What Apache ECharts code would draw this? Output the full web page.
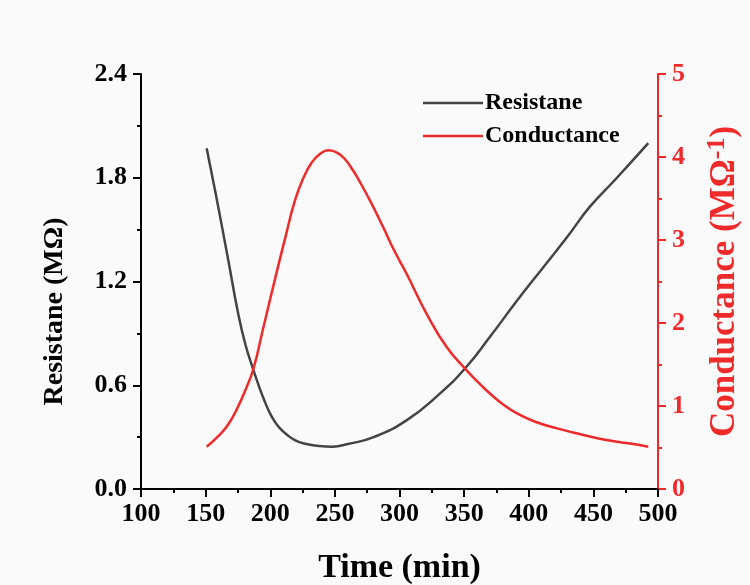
<!DOCTYPE html>
<html>
<head>
<meta charset="utf-8">
<script src="https://cdn.jsdelivr.net/npm/echarts@6/dist/echarts.min.js"></script>
<style>
  html, body { margin: 0; padding: 0; background: #fafafa; }
  #chart { width: 750px; height: 585px; }
</style>
</head>
<body>
<div id="chart"></div>
<script>
// time (min) and values
const resTime = [150.8, 158, 167.6, 175.3, 181, 187, 191, 195, 199, 203, 207, 212, 219, 228, 238, 248, 260, 280, 306, 331, 351, 370, 391, 411, 430, 447, 467, 492.5];
const resValue = [1.97, 1.70, 1.32, 1.01, 0.83, 0.687, 0.60, 0.52, 0.45, 0.395, 0.355, 0.32, 0.283, 0.26, 0.248, 0.245, 0.26, 0.30, 0.40, 0.55, 0.70, 0.88, 1.09, 1.28, 1.46, 1.63, 1.79, 2.0];

const condTime = [150.8, 160, 167.6, 175, 181, 187, 194, 204, 212, 219, 226, 232, 238, 245, 252, 258, 264, 269, 278, 287.5, 296, 305.6, 321, 336.5, 350.7, 360, 370, 380, 391, 405, 422, 440, 460, 477, 492.5];
const condValue = [0.51, 0.64, 0.78, 0.99, 1.2, 1.45, 1.9, 2.55, 3.05, 3.47, 3.76, 3.93, 4.03, 4.08, 4.05, 3.97, 3.84, 3.71, 3.45, 3.15, 2.87, 2.59, 2.11, 1.71, 1.45, 1.30, 1.15, 1.02, 0.91, 0.81, 0.73, 0.66, 0.59, 0.55, 0.51];

const xTicks = [100, 150, 200, 250, 300, 350, 400, 450, 500];
const leftTicks = [0, 0.6, 1.2, 1.8, 2.4];
const rightTicks = [0, 1, 2, 3, 4, 5];

const RED = '#ee2a2a';
const FONT = '"Liberation Serif", "Times New Roman", serif';

const chart = echarts.init(document.getElementById('chart'));

const toPairs = (xs, ys) => xs.map((x, i) => [x, ys[i]]);

const option = {
  backgroundColor: '#fafafa',
  animation: false,
  grid: { left: 141, right: 92, top: 74, bottom: 96, outerBoundsMode: 'none' },
  legend: {
    left: 418,
    top: 86,
    orient: 'vertical',
    itemWidth: 60,
    itemHeight: 22,
    itemGap: 9,
    icon: 'path://M0,10 L60,10 L60,12.5 L0,12.5 Z',
    textStyle: { fontFamily: FONT, fontWeight: 'bold', fontSize: 24, color: '#000', padding: [0, 0, 0, -3] },
    data: ['Resistane', 'Conductance']
  },
  xAxis: [
    {
      type: 'value',
      min: xTicks[0],
      max: xTicks[xTicks.length - 1],
      interval: 50,
      name: 'Time (min)',
      nameLocation: 'middle',
      nameGap: 62,
      nameTextStyle: { fontFamily: FONT, fontWeight: 'bold', fontSize: 34, color: '#000' },
      axisLine: { lineStyle: { color: '#000', width: 2 } },
      axisTick: { length: 8, lineStyle: { color: '#000', width: 2 } },
      minorTick: { show: true, splitNumber: 2, length: 4, lineStyle: { color: '#000', width: 2 } },
      splitLine: { show: false },
      axisLabel: { margin: 12, fontFamily: FONT, fontWeight: 'bold', fontSize: 26, color: '#000' }
    },
    {
      type: 'value',
      position: 'top',
      min: 100,
      max: 500,
      axisLine: { show: true, lineStyle: { color: '#000', width: 2 } },
      axisTick: { show: false },
      axisLabel: { show: false },
      splitLine: { show: false }
    }
  ],
  yAxis: [
    {
      type: 'value',
      min: leftTicks[0],
      max: leftTicks[leftTicks.length - 1],
      interval: 0.6,
      name: 'Resistane (MΩ)',
      nameLocation: 'middle',
      nameRotate: 90,
      nameGap: 72,
      nameTextStyle: { fontFamily: FONT, fontWeight: 'bold', fontSize: 28, color: '#000', padding: [0, 60, 0, 0] },
      axisLine: { show: true, lineStyle: { color: '#000', width: 2 } },
      axisTick: { show: true, length: 8, lineStyle: { color: '#000', width: 2 } },
      minorTick: { show: true, splitNumber: 2, length: 4, lineStyle: { color: '#000', width: 2 } },
      splitLine: { show: false },
      axisLabel: {
        margin: 14,
        fontFamily: FONT, fontWeight: 'bold', fontSize: 26, color: '#000',
        formatter: v => v.toFixed(1)
      }
    },
    {
      type: 'value',
      position: 'right',
      min: rightTicks[0],
      max: rightTicks[rightTicks.length - 1],
      interval: 1,
      name: 'Conductance (MΩ{sup|-1})',
      nameLocation: 'middle',
      nameRotate: 90,
      nameGap: 46,
      nameTextStyle: {
        fontFamily: FONT, fontWeight: 'bold', fontSize: 35, color: RED,
        rich: {
          sup: { fontFamily: FONT, fontWeight: 'bold', fontSize: 26, color: RED, padding: [0, 0, 16, 0] }
        }
      },
      axisLine: { show: true, lineStyle: { color: RED, width: 2 } },
      axisTick: { show: true, length: 8, lineStyle: { color: RED, width: 2 } },
      minorTick: { show: true, splitNumber: 2, length: 4, lineStyle: { color: RED, width: 2 } },
      splitLine: { show: false },
      axisLabel: { margin: 14, fontFamily: FONT, fontWeight: 'bold', fontSize: 26, color: RED }
    }
  ],
  series: [
    {
      name: 'Resistane',
      type: 'line',
      xAxisIndex: 0,
      yAxisIndex: 0,
      data: toPairs(resTime, resValue),
      smooth: 0.5,
      symbol: 'none',
      color: '#444',
      lineStyle: { color: '#444', width: 2.5 }
    },
    {
      name: 'Conductance',
      type: 'line',
      xAxisIndex: 0,
      yAxisIndex: 1,
      data: toPairs(condTime, condValue),
      smooth: 0.5,
      symbol: 'none',
      color: RED,
      lineStyle: { color: RED, width: 2.5 }
    }
  ]
};

chart.setOption(option);
window.addEventListener('resize', () => chart.resize());
</script>
</body>
</html>
